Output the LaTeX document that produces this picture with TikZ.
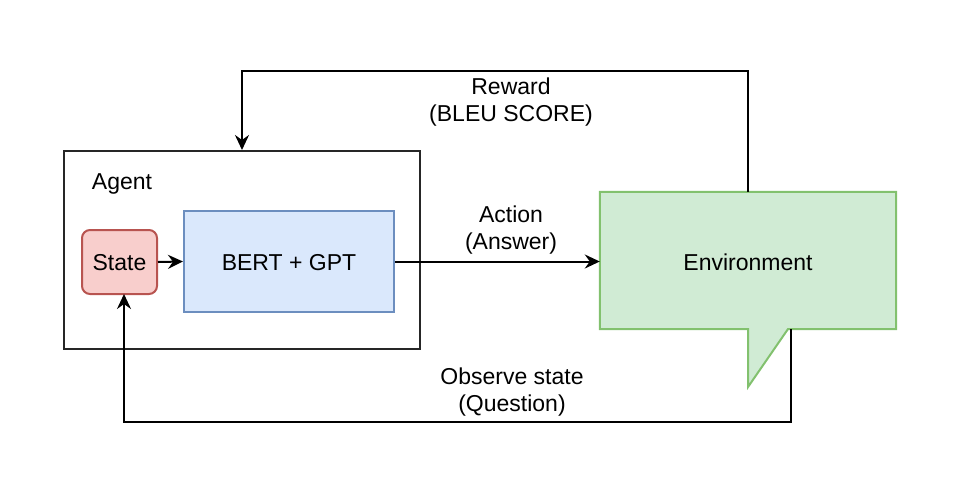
\documentclass[tikz,border=0pt]{standalone}
\usepackage{fontspec}
\setmainfont{Liberation Sans}
\usetikzlibrary{arrows.meta}
\definecolor{redfill}{HTML}{F8CECC}
\definecolor{redline}{HTML}{B85450}
\definecolor{bluefill}{HTML}{DAE8FC}
\definecolor{blueline}{HTML}{6C8EBF}
\definecolor{greenfill}{HTML}{D0EBD4}
\definecolor{greenline}{HTML}{82C16E}
\tikzset{
  lbl/.style={font=\fontsize{23}{26.5}\selectfont, align=center, inner sep=0pt},
  conn/.style={line width=2pt, -{Stealth[length=15pt,width=14pt,inset=5pt]}},
  boxstyle/.style={line width=2pt, inner sep=0pt}
}
\begin{document}
\begin{tikzpicture}[x=1pt,y=-1pt]
\useasboundingbox (0,0) rectangle (963,480);
% Agent container
\node[boxstyle, draw=black!85, minimum width=356pt, minimum height=198pt] (agent) at (242,250) {};
\node[lbl] (agentlbl) at (122,184) {Agent};
% State
\node[boxstyle, draw=redline, fill=redfill, rounded corners=8pt, minimum width=75pt, minimum height=64pt] (state) at (119.5,262) {};
\node[lbl] (statelbl) at (119.5,263) {State};
% BERT + GPT
\node[boxstyle, draw=blueline, fill=bluefill, minimum width=210pt, minimum height=101pt] (bert) at (289,261.5) {};
\node[lbl] (bertlbl) at (289,263) {BERT + GPT};
% Environment callout
\node[inner sep=0pt, minimum width=296pt, minimum height=137pt] (env) at (748,260.5) {};
\coordinate (tipL) at (748,329);
\coordinate (tip) at (748,387);
\coordinate (tipR) at (788,329);
\draw[line width=2pt, draw=greenline, fill=greenfill, line join=miter]
  (env.north west) -- (env.north east) -- (env.south east) -- (tipR) -- (tip) -- (tipL) -- (env.south west) -- cycle;
\node[lbl] (envlbl) at (748,262) {Environment};
% connectors
\draw[conn] (state.east) -- (bert.west);
\draw[conn] (bert.east) -- (bert.east -| env.west);
\coordinate (rtop) at (748,71);
\coordinate (obot) at (791,422);
\draw[conn] (env.north) -- (rtop) -| (agent.north -| 242,0);
\coordinate (oside) at (791,329);
\draw[conn] (oside) -- (obot) -| (124,294);
% labels
\node[lbl] (actionlbl) at (511,230) {Action\\(Answer)};
\node[lbl] (rewardlbl) at (511,102) {Reward\\(BLEU SCORE)};
\node[lbl] (obslbl) at (512,392) {Observe state\\(Question)};
\end{tikzpicture}
\end{document}
